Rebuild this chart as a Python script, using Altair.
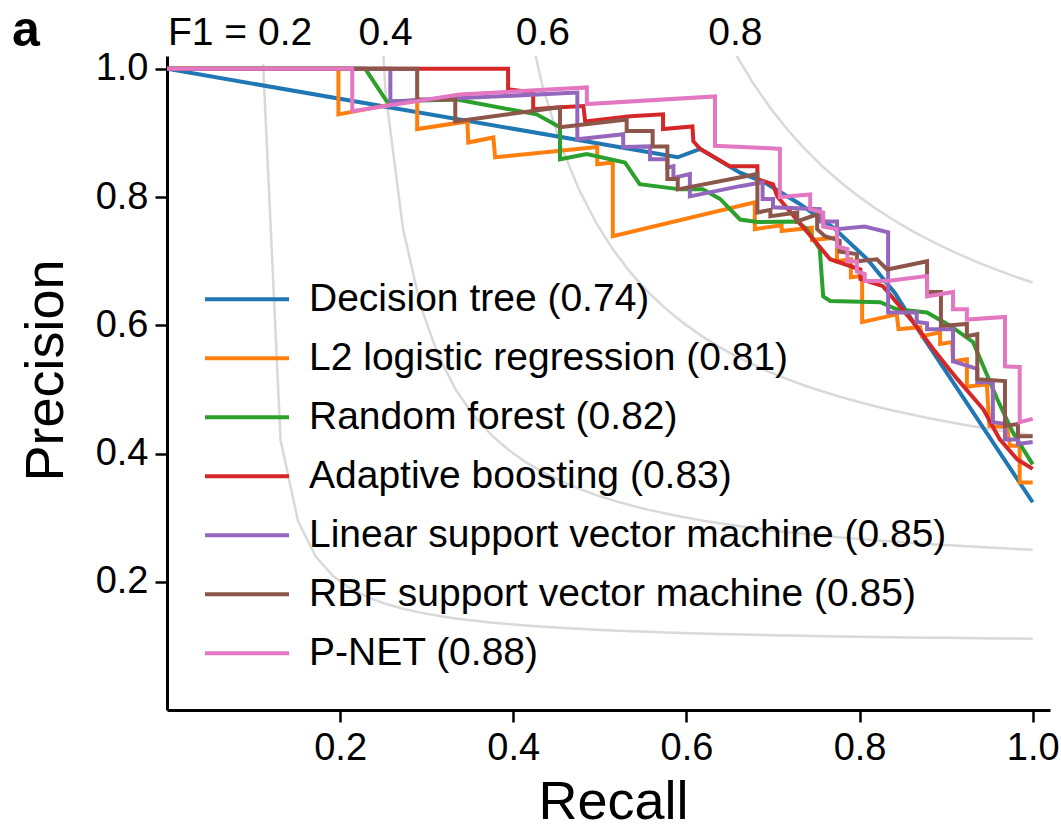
import altair as alt
import numpy as np
import pandas as pd

# Model names and their average precision scores
model_names = [
    "Decision tree",
    "L2 logistic regression",
    "Random forest",
    "Adaptive boosting",
    "Linear support vector machine",
    "RBF support vector machine",
    "P-NET",
]
avg_precision = [0.74, 0.81, 0.82, 0.83, 0.85, 0.85, 0.88]
palette = ["#1f77b4", "#ff7f0e", "#2ca02c", "#d62728", "#9467bd", "#8c564b", "#e377c2"]

# Precision-recall curves as (recall, precision) pairs
decision_tree = [
    (0.0, 1.0), (0.590, 0.862), (0.616, 0.875), (0.662, 0.838), (0.690, 0.823),
    (0.730, 0.790), (0.770, 0.752), (0.809, 0.703), (0.841, 0.650), (0.862, 0.605),
    (1.0, 0.324),
]
l2_logistic = [
    (0.0, 1.0), (0.198, 1.0), (0.198, 0.929), (0.289, 0.952), (0.289, 0.906),
    (0.347, 0.918), (0.348, 0.885), (0.377, 0.893), (0.379, 0.862), (0.497, 0.878),
    (0.497, 0.851), (0.515, 0.854), (0.515, 0.739), (0.679, 0.792), (0.679, 0.750),
    (0.710, 0.756), (0.710, 0.747), (0.745, 0.752), (0.745, 0.733), (0.774, 0.737),
    (0.774, 0.700), (0.790, 0.703), (0.790, 0.675), (0.803, 0.677), (0.803, 0.605),
    (0.843, 0.617), (0.845, 0.594), (0.870, 0.597), (0.872, 0.583), (0.893, 0.589),
    (0.893, 0.571), (0.907, 0.574), (0.908, 0.544), (0.924, 0.547), (0.924, 0.504),
    (0.947, 0.508), (0.950, 0.443), (0.970, 0.441), (0.974, 0.412), (0.985, 0.412),
    (0.985, 0.355), (1.0, 0.355),
]
random_forest = [
    (0.0, 1.0), (0.229, 1.0), (0.254, 0.949), (0.335, 0.952), (0.427, 0.929),
    (0.454, 0.909), (0.454, 0.859), (0.485, 0.867), (0.529, 0.854), (0.546, 0.820),
    (0.593, 0.812), (0.619, 0.812), (0.639, 0.797), (0.662, 0.765), (0.682, 0.761),
    (0.728, 0.762), (0.739, 0.750), (0.754, 0.719), (0.758, 0.645), (0.766, 0.638),
    (0.824, 0.636), (0.843, 0.625), (0.878, 0.620), (0.905, 0.599), (0.931, 0.574),
    (0.943, 0.536), (0.959, 0.485), (0.977, 0.433), (1.0, 0.383),
]
adaboost = [
    (0.0, 1.0), (0.394, 1.0), (0.394, 0.968), (0.423, 0.963), (0.423, 0.937),
    (0.454, 0.940), (0.481, 0.942), (0.483, 0.918), (0.535, 0.926), (0.573, 0.929),
    (0.573, 0.906), (0.607, 0.910), (0.608, 0.887), (0.616, 0.875), (0.650, 0.848),
    (0.682, 0.848), (0.682, 0.828), (0.700, 0.820), (0.705, 0.801), (0.766, 0.703),
    (0.801, 0.687), (0.801, 0.672), (0.827, 0.661), (0.862, 0.605), (0.885, 0.563),
    (0.913, 0.516), (0.943, 0.469), (0.962, 0.422), (0.982, 0.391), (1.0, 0.376),
]
linear_svm = [
    (0.0, 1.0), (0.258, 1.0), (0.258, 0.949), (0.474, 0.963), (0.474, 0.890),
    (0.527, 0.898), (0.527, 0.878), (0.558, 0.879), (0.558, 0.859), (0.578, 0.859),
    (0.578, 0.846), (0.585, 0.848), (0.585, 0.830), (0.604, 0.836), (0.604, 0.801),
    (0.662, 0.817), (0.688, 0.823), (0.688, 0.797), (0.700, 0.797), (0.700, 0.784),
    (0.754, 0.781), (0.754, 0.762), (0.774, 0.762), (0.774, 0.750), (0.806, 0.754),
    (0.833, 0.745), (0.833, 0.620), (0.866, 0.620), (0.866, 0.605), (0.878, 0.603),
    (0.878, 0.594), (0.908, 0.594), (0.908, 0.544), (0.936, 0.532), (0.936, 0.511),
    (0.954, 0.511), (0.954, 0.449), (0.968, 0.446), (0.968, 0.422), (0.983, 0.422),
    (0.983, 0.415), (1.0, 0.418),
]
rbf_svm = [
    (0.0, 1.0), (0.289, 1.0), (0.289, 0.952), (0.333, 0.952), (0.333, 0.918),
    (0.454, 0.940), (0.454, 0.909), (0.531, 0.921), (0.531, 0.903), (0.561, 0.903),
    (0.561, 0.879), (0.578, 0.879), (0.578, 0.828), (0.590, 0.828), (0.590, 0.812),
    (0.682, 0.836), (0.682, 0.776), (0.697, 0.780), (0.697, 0.770), (0.728, 0.776),
    (0.728, 0.762), (0.751, 0.773), (0.751, 0.750), (0.760, 0.739), (0.777, 0.732),
    (0.777, 0.715), (0.797, 0.711), (0.797, 0.700), (0.820, 0.703), (0.832, 0.687),
    (0.878, 0.700), (0.878, 0.652), (0.894, 0.652), (0.894, 0.599), (0.924, 0.602),
    (0.924, 0.583), (0.936, 0.586), (0.936, 0.516), (0.968, 0.513), (0.968, 0.443),
    (0.983, 0.446), (0.983, 0.427), (1.0, 0.427),
]
pnet = [
    (0.0, 1.0), (0.214, 1.0), (0.214, 0.934), (0.338, 0.960), (0.485, 0.971),
    (0.485, 0.945), (0.633, 0.957), (0.633, 0.880), (0.697, 0.876), (0.708, 0.875),
    (0.708, 0.800), (0.743, 0.804), (0.743, 0.781), (0.758, 0.776), (0.758, 0.754),
    (0.774, 0.750), (0.774, 0.723), (0.786, 0.719), (0.786, 0.700), (0.797, 0.700),
    (0.797, 0.684), (0.806, 0.680), (0.806, 0.669), (0.832, 0.669), (0.878, 0.677),
    (0.878, 0.645), (0.908, 0.652), (0.908, 0.625), (0.924, 0.625), (0.924, 0.609),
    (0.968, 0.613), (0.968, 0.536), (0.985, 0.535), (0.985, 0.449), (1.0, 0.454),
]
curves = [decision_tree, l2_logistic, random_forest, adaboost, linear_svm, rbf_svm, pnet]

# Iso-F1 reference levels
f1_levels = [0.2, 0.4, 0.6, 0.8]

FONT = "Liberation Sans"
X_MAX = 1.02
Y_MAX = 1.02

labels = [f"{n} ({s:.2f})" for n, s in zip(model_names, avg_precision)]

rows = []
for k, (lab, pts) in enumerate(zip(labels, curves)):
    for i, (r, p) in enumerate(pts):
        rows.append({"model": lab, "rank": k, "step": i, "recall": r, "precision": p})
pr_df = pd.DataFrame(rows)

# Iso-F1 curves: precision = f*r / (2r - f)
iso_rows = []
iso_label_x = []
for f in f1_levels:
    r = np.linspace(0.01, 1, 50)
    p = f * r / (2 * r - f)
    keep = p >= 0
    for i, (rr, pp) in enumerate(zip(r[keep], p[keep])):
        iso_rows.append({"f1": f, "step": i, "recall": float(rr), "precision": float(pp)})
    # label sits above the first point of the curve inside the frame
    inside = keep & (p <= 1.05)
    iso_label_x.append(float(r[inside][0]))
iso_df = pd.DataFrame(iso_rows)

iso_label_df = pd.DataFrame({
    "text": [f"{f:.1f}" for f in f1_levels[1:]],
    "recall": iso_label_x[1:],
})

x_scale = alt.Scale(domain=[0, X_MAX], nice=False, zero=False)
y_scale = alt.Scale(domain=[0, Y_MAX], nice=False, zero=False)

x_enc = alt.X(
    "recall:Q", scale=x_scale,
    axis=alt.Axis(title="Recall", values=[0.2, 0.4, 0.6, 0.8, 1.0], format=".1f"),
)
y_enc = alt.Y(
    "precision:Q", scale=y_scale,
    axis=alt.Axis(title="Precision", values=[0.2, 0.4, 0.6, 0.8, 1.0], format=".1f"),
)

iso = alt.Chart(iso_df).mark_line(color="#d9d9d9", strokeWidth=2.5, clip=True).encode(
    x=x_enc, y=y_enc, detail="f1:N", order="step:Q"
)

lines = alt.Chart(pr_df).mark_line(strokeWidth=4, clip=True).encode(
    x=x_enc,
    y=y_enc,
    color=alt.Color(
        "model:N",
        scale=alt.Scale(domain=labels, range=palette),
        sort=labels,
        legend=alt.Legend(
            title=None,
            orient="none",
            legendX=36,
            legendY=214,
            symbolType="stroke",
            symbolSize=7056,
            symbolStrokeWidth=4,
            labelFontSize=39,
            labelFont=FONT,
            labelColor="black",
            labelLimit=1000,
            clipHeight=58.7,
            rowPadding=0,
            labelOffset=18,
            padding=0,
        ),
    ),
    order="step:Q",
)

iso_text = alt.Chart(iso_label_df).mark_text(
    font=FONT, fontSize=39, color="black", align="center", baseline="alphabetic"
).encode(
    x=alt.X("recall:Q", scale=x_scale),
    y=alt.value(-11),
    text="text:N",
)

f1_prefix = alt.Chart(pd.DataFrame({"text": ["F1 = 0.2"]})).mark_text(
    font=FONT, fontSize=39, color="black", align="left", baseline="alphabetic"
).encode(x=alt.value(1), y=alt.value(-11), text="text:N")

panel_tag = alt.Chart(pd.DataFrame({"text": ["a"]})).mark_text(
    font=FONT, fontSize=50, fontWeight="bold", color="black", align="left", baseline="alphabetic"
).encode(x=alt.value(-155), y=alt.value(-10), text="text:N")

chart = alt.layer(iso, lines, iso_text, f1_prefix, panel_tag).properties(
    width=883,
    height=654,
    autosize=alt.AutoSizeParams(type="none"),
    padding={"left": 167, "top": 56, "right": 11, "bottom": 122},
    background="white",
).configure_view(stroke=None).configure_axis(
    grid=False,
    domainColor="black",
    domainWidth=3,
    tickColor="black",
    tickWidth=2.5,
    tickSize=12,
    labelFont=FONT,
    labelFontSize=38,
    labelColor="black",
    labelPadding=7,
    titleFont=FONT,
    titleFontSize=54,
    titleFontWeight="normal",
    titleColor="black",
).configure_axisX(
    labelFlush=False, titleX=446, titleY=108, titleAlign="center", titleBaseline="alphabetic"
).configure_axisY(
    labelFlush=False, titleX=-105, titleY=314, titleAlign="center", titleBaseline="alphabetic"
)

chart.save("out.html", embed_options={"renderer": "svg", "actions": False})
